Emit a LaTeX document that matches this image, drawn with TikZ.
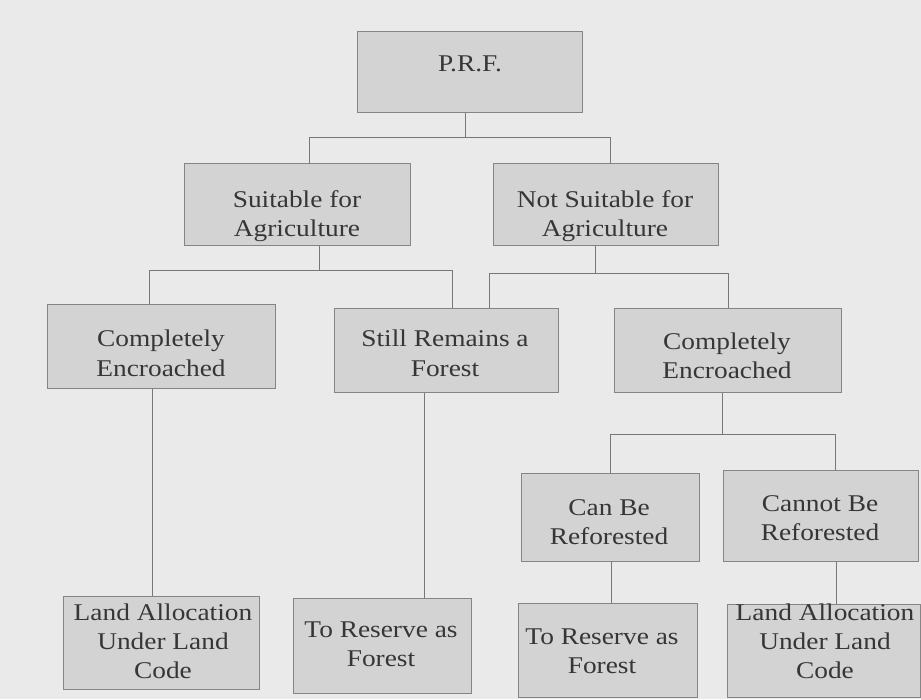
\documentclass[tikz,border=0pt]{standalone}
\usepackage{fontspec}
\setmainfont{Liberation Serif}[FakeStretch=1.14]
\definecolor{paper}{HTML}{EAEAEA}
\definecolor{boxfill}{HTML}{D3D3D3}
\definecolor{boxedge}{HTML}{858585}
\definecolor{wire}{HTML}{777777}
\definecolor{ink}{HTML}{363636}
\begin{document}
\begin{tikzpicture}[x=1pt,y=-1pt,
  box/.style={draw=boxedge, fill=boxfill, line width=1.4pt, inner sep=0pt, anchor=north west},
  txt/.style={anchor=north, inner sep=0pt, align=center, text=ink,
              font=\fontsize{24}{29}\selectfont},
  conn/.style={draw=wire, line width=1.1pt}]

% page
\fill[paper] (0,0) rectangle (921,699);
\useasboundingbox (0,0) rectangle (921,699);

% boxes
\node[box, minimum width=225pt, minimum height=81pt]  (prf)    at (357,31)  {};
\node[box, minimum width=226pt, minimum height=82pt]  (suit)   at (184,163) {};
\node[box, minimum width=225pt, minimum height=82pt]  (nsuit)  at (493,163) {};
\node[box, minimum width=228pt, minimum height=84pt]  (ceL)    at (47,304)  {};
\node[box, minimum width=224pt, minimum height=84pt]  (still)  at (334,308) {};
\node[box, minimum width=227pt, minimum height=84pt]  (ceR)    at (614,308) {};
\node[box, minimum width=178pt, minimum height=88pt]  (can)    at (521,473) {};
\node[box, minimum width=195pt, minimum height=91pt]  (cannot) at (723,470) {};
\node[box, minimum width=196pt, minimum height=93pt]  (landL)  at (63,596)  {};
\node[box, minimum width=178pt, minimum height=95pt]  (resM)   at (293,598) {};
\node[box, minimum width=179pt, minimum height=94pt]  (resR)   at (518,603) {};
\node[box, minimum width=193pt, minimum height=93pt]  (landR)  at (727,604) {};

% labels
\node[txt] (prf-t)    at (470,56)  {P.R.F.};
\node[txt] (suit-t)   at (297,190) {Suitable for\\Agriculture};
\node[txt] (nsuit-t)  at (605,190) {Not Suitable for\\Agriculture};
\node[txt, font=\fontsize{24}{30}\selectfont] (ceL-t) at (161,330) {Completely\\Encroached};
\node[txt, font=\fontsize{24}{30}\selectfont] (still-t) at (445,330) {Still Remains a\\Forest};
\node[txt] (ceR-t)    at (727,333) {Completely\\Encroached};
\node[txt] (can-t)    at (609,499) {Can Be\\Reforested};
\node[txt] (cannot-t) at (820,495) {Cannot Be\\Reforested};
\node[txt] (landL-t)  at (163,604) {Land Allocation\\Under Land\\Code};
\node[txt] (resM-t)   at (381,622) {To Reserve as\\Forest};
\node[txt] (resR-t)   at (602,629) {To Reserve as\\Forest};
\node[txt] (landR-t)  at (825,604) {Land Allocation\\Under Land\\Code};

% first split
\draw[conn] ([xshift=-4.5pt]prf.south) -- ++(0,24) coordinate (j0);
\draw[conn] ([xshift=12pt]suit.north) |- (j0) -| ([xshift=4.5pt]nsuit.north);

% suitable branch
\draw[conn] ([xshift=22pt]suit.south) -- ++(0,24) coordinate (j1);
\draw[conn] ([xshift=-12pt]ceL.north) |- (j1) -| ([xshift=6pt]still.north);

% not suitable branch
\draw[conn] ([xshift=-10.5pt]nsuit.south) -- ++(0,27) coordinate (j2);
\draw[conn] ([xshift=43pt]still.north) |- (j2) -| ([xshift=0.5pt]ceR.north);

% encroached, not suitable
\draw[conn] ([xshift=-5.5pt]ceR.south) -- ++(0,41) coordinate (j3);
\draw[conn] (can.north) |- (j3) -| ([xshift=14.5pt]cannot.north);

% outcomes
\draw[conn] ([xshift=-9pt]ceL.south) -- ([xshift=-9pt]landL.north);
\draw[conn] ([xshift=-22pt]still.south) -- ([xshift=42pt]resM.north);
\draw[conn] ([xshift=1pt]can.south) -- ([xshift=3.5pt]resR.north);
\draw[conn] ([xshift=15.5pt]cannot.south) -- ([xshift=12.5pt]landR.north);
\end{tikzpicture}
\end{document}
